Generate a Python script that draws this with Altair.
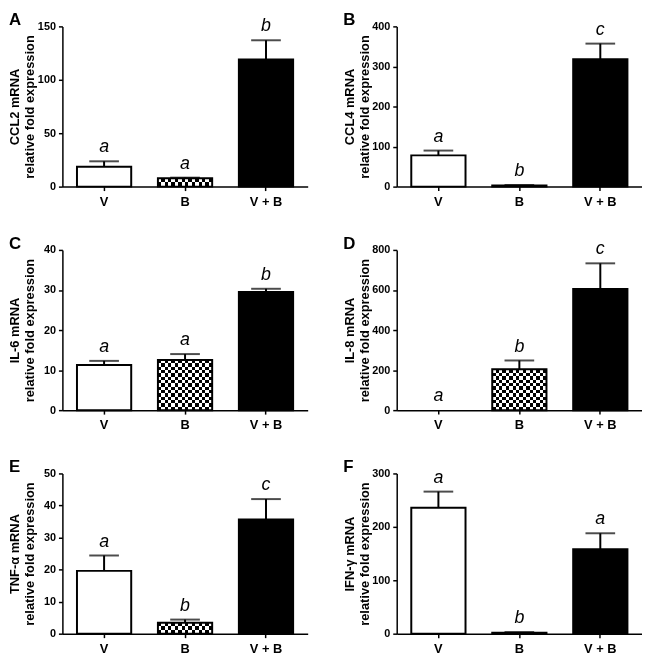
import altair as alt
import pandas as pd

# ---------------- data ----------------
groups = ["V", "B", "V + B"]
panel_ids = ["A", "B", "C", "D", "E", "F"]
genes = ["CCL2 mRNA", "CCL4 mRNA", "IL-6 mRNA", "IL-8 mRNA", "TNF-α mRNA", "IFN-γ mRNA"]
y_max = [150, 400, 40, 800, 50, 300]
y_step = [50, 100, 10, 200, 10, 100]

mean_A = [18.5, 7.8, 119.0]
sem_A = [5.2, 0.6, 18.0]
mean_B = [78.0, 3.0, 318.0]
sem_B = [12.0, 1.0, 39.0]
mean_C = [11.3, 12.5, 29.5]
sem_C = [1.0, 1.5, 0.8]
mean_D = [0.0, 204.0, 605.0]
sem_D = [0.0, 44.0, 128.0]
mean_E = [19.6, 3.4, 35.6]
sem_E = [4.8, 1.0, 6.4]
mean_F = [236.0, 2.0, 158.0]
sem_F = [30.0, 1.0, 30.0]

letters_A = ["a", "a", "b"]
letters_B = ["a", "b", "c"]
letters_C = ["a", "a", "b"]
letters_D = ["a", "b", "c"]
letters_E = ["a", "b", "c"]
letters_F = ["a", "b", "a"]

means = [mean_A, mean_B, mean_C, mean_D, mean_E, mean_F]
sems = [sem_A, sem_B, sem_C, sem_D, sem_E, sem_F]
letters = [letters_A, letters_B, letters_C, letters_D, letters_E, letters_F]

# ---------------- style ----------------
W, H = 248, 162
FONT = "Liberation Sans"
CELL = 3.4


def stripes(n, x1, y1, x2, y2):
    stops = []
    for i in range(n):
        c = "black" if i % 2 == 0 else "white"
        stops.append(alt.GradientStop(color=c, offset=i / n))
        stops.append(alt.GradientStop(color=c, offset=(i + 1) / n))
    return alt.LinearGradient(gradient="linear", stops=stops, x1=x1, y1=y1, x2=x2, y2=y2)


def panel(pid, gene, m, s, lets, ymax, ystep):
    df = pd.DataFrame({
        "group": groups,
        "mean": m,
        "upper": [a + b for a, b in zip(m, s)],
        "letter": lets,
    })
    xax = alt.Axis(title=None, labelAngle=0, labelFont=FONT, labelFontSize=13,
                   labelFontWeight="bold", labelColor="black", labelPadding=5,
                   tickSize=4, tickWidth=1.5, tickColor="black",
                   domainColor="black", domainWidth=1.5, grid=False)
    yax = alt.Axis(values=list(range(0, ymax + 1, ystep)), title=[gene, "relative fold expression"],
                   titleFont=FONT, titleFontSize=13, titleFontWeight="bold", titleColor="black",
                   titleX=-54, titleBaseline="top", titleLineHeight=15,
                   labelFont=FONT, labelFontSize=11, labelFontWeight="bold", labelColor="black",
                   labelPadding=3, tickSize=4, tickWidth=1.5, tickColor="black",
                   domainColor="black", domainWidth=1.5, grid=False)
    xs = alt.Scale(domain=groups, paddingInner=0.33, paddingOuter=0.18)
    ys = alt.Scale(domain=[0, ymax], nice=False)
    X = alt.X("group:N", sort=groups, scale=xs, axis=xax)
    Ym = alt.Y("mean:Q", scale=ys, axis=yax)

    base = alt.Chart(df)
    bars = base.mark_bar().encode(
        x=X, y=Ym,
        fill=alt.Fill("group:N", scale=alt.Scale(domain=groups, range=["white", "white", "black"]), legend=None),
    )
    b_mean = m[1]
    hpx = b_mean / ymax * H
    ny = max(1, int(round(hpx / CELL)))
    chk1 = base.transform_filter(alt.datum.group == "B").mark_bar(
        fill=stripes(16, 0, 0, 1, 0)).encode(x=X, y=Ym)
    chk2 = base.transform_filter(alt.datum.group == "B").mark_bar(
        fill=stripes(ny, 0, 1, 0, 0), blend="difference").encode(x=X, y=Ym)
    outline = base.transform_filter(alt.datum.mean > 0).mark_bar(
        fillOpacity=0, stroke="black", strokeWidth=2).encode(x=X, y=Ym)
    stem = base.mark_rule(color="black", strokeWidth=2).encode(x=X, y=Ym, y2="upper:Q")
    cap = base.transform_filter(alt.datum.upper > 0).mark_tick(
        color="black", size=30, thickness=2).encode(
        x=X, y=alt.Y("upper:Q", scale=ys, axis=yax))
    txt = base.mark_text(font=FONT, fontSize=18, fontStyle="italic", color="black",
                         baseline="alphabetic", dy=-9).encode(
        x=X, y=alt.Y("upper:Q", scale=ys, axis=yax), text="letter:N")
    lab = alt.Chart(pd.DataFrame({"p": [pid]})).mark_text(
        font=FONT, fontSize=17, fontWeight="bold", color="black", align="left",
        baseline="top").encode(x=alt.value(-54), y=alt.value(-14), text="p:N")
    return alt.layer(bars, chk1, chk2, outline, stem, cap, txt, lab).properties(width=W, height=H)


panels = [panel(panel_ids[i], genes[i], means[i], sems[i], letters[i], y_max[i], y_step[i])
          for i in range(6)]

chart = alt.concat(*panels, columns=2, spacing={"row": 64, "column": 90}, bounds="flush").properties(
    padding=0, background="white"
).configure_view(stroke=None)

chart.save("out.html", embed_options={"renderer": "svg", "actions": False})
